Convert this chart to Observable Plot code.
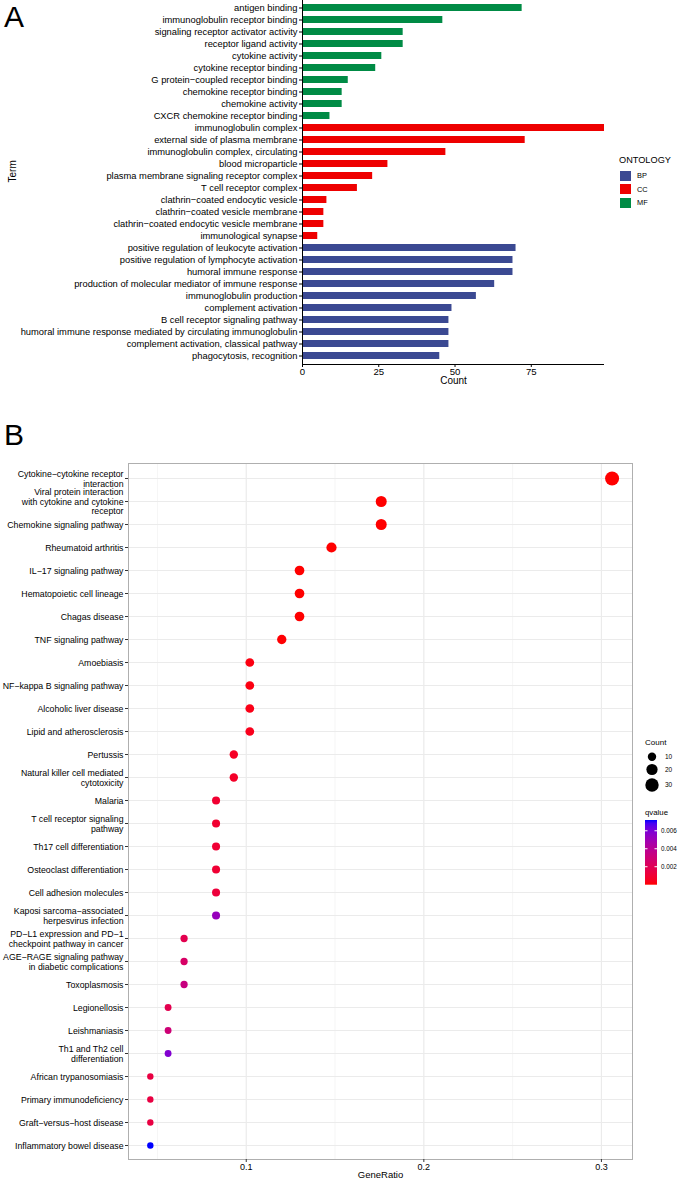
<!DOCTYPE html>
<html><head><meta charset="utf-8">
<script src="https://cdn.jsdelivr.net/npm/d3@7"></script>
<script src="https://cdn.jsdelivr.net/npm/@observablehq/plot@0.6"></script>
<style>
body{margin:0;background:#fff;font-family:"Liberation Sans",Arial,sans-serif;color:#000;}
#wrap{position:relative;width:679px;height:1181px;overflow:hidden;background:#fff;}
.panel{position:absolute;font-size:30px;line-height:30px;}
.lg{position:absolute;font-size:9.5px;line-height:1;white-space:nowrap;}
</style></head><body><div id="wrap"></div>
<script>
// ---------- Panel A data (GO enrichment, top to bottom) ----------
const goTerms = [
  "antigen binding","immunoglobulin receptor binding","signaling receptor activator activity",
  "receptor ligand activity","cytokine activity","cytokine receptor binding",
  "G protein\u2212coupled receptor binding","chemokine receptor binding","chemokine activity",
  "CXCR chemokine receptor binding",
  "immunoglobulin complex","external side of plasma membrane","immunoglobulin complex, circulating",
  "blood microparticle","plasma membrane signaling receptor complex","T cell receptor complex",
  "clathrin\u2212coated endocytic vesicle","clathrin\u2212coated vesicle membrane",
  "clathrin\u2212coated endocytic vesicle membrane","immunological synapse",
  "positive regulation of leukocyte activation","positive regulation of lymphocyte activation",
  "humoral immune response","production of molecular mediator of immune response",
  "immunoglobulin production","complement activation","B cell receptor signaling pathway",
  "humoral immune response mediated by circulating immunoglobulin",
  "complement activation, classical pathway","phagocytosis, recognition"
];
const goCounts = [72,46,33,33,26,24,15,13,13,9, 99,73,47,28,23,18,8,7,7,5, 70,69,69,63,57,49,48,48,48,45];
const goOntology = ["MF","MF","MF","MF","MF","MF","MF","MF","MF","MF",
  "CC","CC","CC","CC","CC","CC","CC","CC","CC","CC",
  "BP","BP","BP","BP","BP","BP","BP","BP","BP","BP"];
const ontologyLevels = ["BP","CC","MF"];
const ontologyColors = ["#3B4992","#EE0000","#008B45"];
const countTicks = [0,25,50,75];

// ---------- Panel B data (KEGG dot plot, top to bottom) ----------
const keggTerms = [
  "Cytokine\u2212cytokine receptor\ninteraction",
  "Viral protein interaction\nwith cytokine and cytokine\nreceptor",
  "Chemokine signaling pathway","Rheumatoid arthritis","IL\u221217 signaling pathway",
  "Hematopoietic cell lineage","Chagas disease","TNF signaling pathway","Amoebiasis",
  "NF\u2212kappa B signaling pathway","Alcoholic liver disease","Lipid and atherosclerosis",
  "Pertussis","Natural killer cell mediated\ncytotoxicity","Malaria",
  "T cell receptor signaling\npathway","Th17 cell differentiation","Osteoclast differentiation",
  "Cell adhesion molecules","Kaposi sarcoma\u2212associated\nherpesvirus infection",
  "PD\u2212L1 expression and PD\u22121\ncheckpoint pathway in cancer",
  "AGE\u2212RAGE signaling pathway\nin diabetic complications","Toxoplasmosis","Legionellosis",
  "Leishmaniasis","Th1 and Th2 cell\ndifferentiation","African trypanosomiasis",
  "Primary immunodeficiency","Graft\u2212versus\u2212host disease","Inflammatory bowel disease"
];
const keggGeneRatio = [0.306,0.176,0.176,0.148,0.130,0.130,0.130,0.120,0.102,0.102,0.102,0.102,
  0.093,0.093,0.083,0.083,0.083,0.083,0.083,0.083,0.065,0.065,0.065,0.056,0.056,0.056,
  0.046,0.046,0.046,0.046];
const keggCount = [33,19,19,16,14,14,14,13,11,11,11,11,10,10,9,9,9,9,9,9,7,7,7,6,6,6,5,5,5,5];
const keggQvalue = [1e-12,1e-8,1e-8,1e-6,2e-6,5e-6,1e-5,3e-5,0.0002,0.0002,0.0003,0.0004,
  0.0006,0.0007,0.0009,0.0009,0.0010,0.0010,0.0012,0.0052,0.0018,0.0025,0.0033,0.0018,
  0.0030,0.0058,0.0014,0.0014,0.0014,0.0072];
const ratioTicks = [0.1,0.2,0.3];
const ratioMinorTicks = [0.05,0.15,0.25];
const sizeLegendCounts = [10,20,30];
const qvalueTicks = [0.002,0.004,0.006];

const FONT = "Liberation Sans, Arial, sans-serif";
const wrap = document.getElementById("wrap");
function place(el, left, top){ el.style.position="absolute"; el.style.left=left+"px"; el.style.top=top+"px"; wrap.appendChild(el); return el; }
function label(text, left, centerY, size){
  const d = document.createElement("div"); d.className = "lg"; d.style.fontSize = size + "px";
  d.textContent = text; place(d, left, centerY - size * 0.5); return d;
}

// ---------- Panel A ----------
const goData = goTerms.map((t,i)=>({term:t, count:goCounts[i], ont:goOntology[i]}));
const A_W = 612, A_H = 395, A_ML = 302, A_MR = 8, A_MB = 31;
const plotA = Plot.plot({
  width: A_W, height: A_H,
  marginLeft: A_ML, marginRight: A_MR, marginTop: 0, marginBottom: A_MB,
  style: {fontFamily: FONT, fontSize: "9.35px", color: "#000", background: "transparent", overflow: "visible"},
  x: {domain: [0, 99], label: null},
  y: {domain: goTerms, paddingInner: 0.4, paddingOuter: 0.3, label: null},
  color: {domain: ontologyLevels, range: ontologyColors},
  marks: [
    Plot.barX(goData, {x: "count", y: "term", fill: "ont"}),
    Plot.ruleX([0], {stroke: "#000", strokeWidth: 1}),
    Plot.axisY({tickSize: 3, tickPadding: 2, stroke: "#000", label: null, fill: "#000", fontSize: 9.35}),
    Plot.axisX({ticks: countTicks, tickSize: 3, tickPadding: 1, label: null, fill: "#000", fontSize: 9.6}),
    Plot.text(["Count"], {frameAnchor: "bottom", dy: 19.5, fontSize: 10, fill: "#000"}),
    Plot.text(["Term"], {frameAnchor: "left", dx: -290, rotate: -90, fontSize: 10, fill: "#000"})
  ]
});
place(plotA, 0, 0);
d3.select(plotA).append("line")
  .attr("x1", A_ML).attr("x2", A_W - A_MR)
  .attr("y1", A_H - A_MB + 0.5).attr("y2", A_H - A_MB + 0.5)
  .attr("stroke", "#000");

// ONTOLOGY legend
label("ONTOLOGY", 619, 160.7, 9.2);
ontologyLevels.forEach((k,i)=>{
  const cy = 175.7 + i * 13.5;
  const sw = document.createElement("div");
  sw.style.width = "11px"; sw.style.height = "10px"; sw.style.background = ontologyColors[i];
  place(sw, 620, cy - 5);
  label(k, 637, cy, 7.4);
});

// Panel labels
const labA = document.createElement("div"); labA.className="panel"; labA.textContent="A"; place(labA, 4, 2);
const labB = document.createElement("div"); labB.className="panel"; labB.textContent="B"; place(labB, 4, 420);

// ---------- Panel B ----------
const keggData = keggTerms.map((t,i)=>({term:t, ratio:keggGeneRatio[i], count:keggCount[i], q:keggQvalue[i]}));
const B_TOP = 455, B_W = 640, B_H = 726;
const plotB = Plot.plot({
  width: B_W, height: B_H,
  marginLeft: 128, marginRight: 8, marginTop: 8, marginBottom: 22,
  style: {fontFamily: FONT, fontSize: "8.75px", color: "#000", background: "transparent", overflow: "visible"},
  x: {domain: [0.0337, 0.3175], label: null},
  y: {domain: keggTerms, type: "point", padding: 0.6, label: null},
  r: {type: "sqrt", domain: [5, 33], range: [3.2, 7]},
  color: {type: "linear", domain: [0, 0.0072], range: ["red", "blue"], interpolate: "lab"},
  marks: [
    Plot.ruleX(ratioMinorTicks, {stroke: "#F4F4F4", strokeWidth: 0.8}),
    Plot.ruleX(ratioTicks, {stroke: "#EBEBEB", strokeWidth: 1.2}),
    Plot.gridY({stroke: "#EBEBEB", strokeOpacity: 1, strokeWidth: 1.2}),
    Plot.frame({stroke: "#AFAFAF"}),
    Plot.dot(keggData, {x: "ratio", y: "term", r: "count", fill: "q", stroke: null}),
    Plot.axisY({tickSize: 3, tickPadding: 2, stroke: "#333", fill: "#000", lineHeight: 1.12, label: null, fontSize: 8.75}),
    Plot.axisX({ticks: ratioTicks, tickSize: 3, tickPadding: 1, stroke: "#333", fill: "#000", tickFormat: d3.format(".1f"), label: null, fontSize: 9}),
    Plot.text(["GeneRatio"], {frameAnchor: "bottom", dy: 18, fontSize: 9.5, fill: "#000"})
  ]
});
place(plotB, 0, B_TOP);

// Size legend (Count) using plot B's r scale
const rScale = plotB.scale("r");
label("Count", 645, 742.7, 8);
const sizeSvg = d3.create("svg").attr("width", 34).attr("height", 46).style("font-family", FONT).style("font-size", "6.5px");
const sizeYs = [756.7, 769.5, 785];
sizeLegendCounts.forEach((c,i)=>{
  const y = sizeYs[i] - 747;
  sizeSvg.append("circle").attr("cx", 7).attr("cy", y).attr("r", rScale.apply(c)).attr("fill", "#000");
  sizeSvg.append("text").attr("x", 20).attr("y", y).attr("dy", "0.35em").text(c);
});
place(sizeSvg.node(), 645, 747);

// Colour legend (qvalue) using plot B's colour scale
const cScale = plotB.scale("color");
label("qvalue", 645, 813.3, 7.8);
const barTop = 4, barH = 64.7, barW = 12;
const qy = d3.scaleLinear().domain(cScale.domain).range([barTop + barH, barTop]);
const colSvg = d3.create("svg").attr("width", 34).attr("height", 72).style("font-family", FONT).style("font-size", "6.3px");
const grad = colSvg.append("defs").append("linearGradient").attr("id", "qgrad").attr("x1", 0).attr("x2", 0).attr("y1", 1).attr("y2", 0);
d3.range(0, 1.0001, 0.05).forEach(t=>{
  const v = cScale.domain[0] + t * (cScale.domain[1] - cScale.domain[0]);
  grad.append("stop").attr("offset", t).attr("stop-color", cScale.apply(v));
});
colSvg.append("rect").attr("x", 1).attr("y", barTop).attr("width", barW).attr("height", barH).attr("fill", "url(#qgrad)");
qvalueTicks.forEach(v=>{
  const y = qy(v);
  colSvg.append("line").attr("x1", 1).attr("x2", 3.5).attr("y1", y).attr("y2", y).attr("stroke", "#fff");
  colSvg.append("line").attr("x1", 10.5).attr("x2", 13).attr("y1", y).attr("y2", y).attr("stroke", "#fff");
  colSvg.append("text").attr("x", 17).attr("y", y).attr("dy", "0.35em").text(d3.format(".3f")(v));
});
place(colSvg.node(), 644, 816);
</script></body></html>
